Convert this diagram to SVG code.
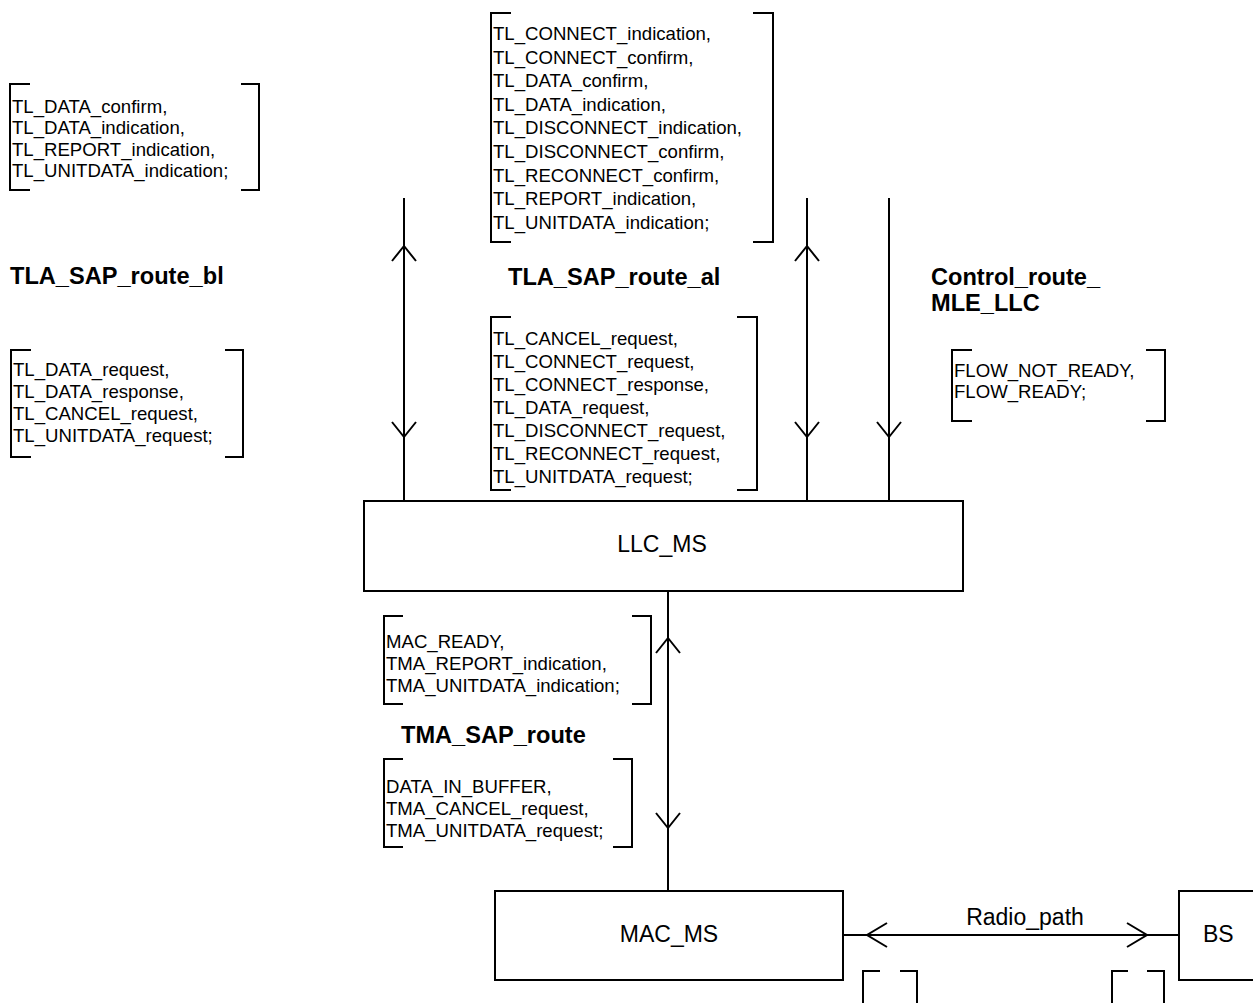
<svg xmlns="http://www.w3.org/2000/svg" width="1253" height="1003" viewBox="0 0 1253 1003">
<style>
.t{font-family:"Liberation Sans",Arial,sans-serif;font-size:18.6px;fill:#000}
.b{font-family:"Liberation Sans",Arial,sans-serif;font-size:23.6px;font-weight:bold;fill:#000}
.n{font-family:"Liberation Sans",Arial,sans-serif;font-size:23px;fill:#000}
.br{fill:none;stroke:#000;stroke-width:2}
.box{fill:#fff;stroke:#000;stroke-width:2}
.ln{fill:none;stroke:#000;stroke-width:2}
</style>
<defs>
<path id="ah" d="M-12,15 L0,0 L12,15" fill="none" stroke="#000" stroke-width="2"/>
</defs>
<rect width="1253" height="1003" fill="#fff"/>
<g id="connectors">
<line class="ln" x1="404" y1="198" x2="404" y2="501"/>
<use href="#ah" transform="translate(404,246)"/>
<use href="#ah" transform="translate(404,437) rotate(180)"/>
<line class="ln" x1="807" y1="198" x2="807" y2="501"/>
<use href="#ah" transform="translate(807,246)"/>
<use href="#ah" transform="translate(807,437) rotate(180)"/>
<line class="ln" x1="889" y1="198" x2="889" y2="501"/>
<use href="#ah" transform="translate(889,437) rotate(180)"/>
<line class="ln" x1="668" y1="591" x2="668" y2="891"/>
<use href="#ah" transform="translate(668,638)"/>
<use href="#ah" transform="translate(668,828) rotate(180)"/>
<line class="ln" x1="843" y1="935" x2="1179" y2="935"/>
<path class="ln" d="M887,923 L867,935 L887,947"/>
<path class="ln" d="M1127,923 L1147,935 L1127,947"/>
<text class="n" x="1025" y="925" text-anchor="middle">Radio_path</text>
</g>
<g id="sig_tla_bl_up">
<path class="br" d="M30,84 H10 V190 H30 M241,84 H259 V190 H241"/>
<text class="t" x="12" y="113">TL_DATA_confirm,</text>
<text class="t" x="12" y="134">TL_DATA_indication,</text>
<text class="t" x="12" y="156">TL_REPORT_indication,</text>
<text class="t" x="12" y="177">TL_UNITDATA_indication;</text>
</g>
<g id="sig_tla_al_up">
<path class="br" d="M511,13 H491 V242 H511 M753,13 H773 V242 H753"/>
<text class="t" x="493" y="40">TL_CONNECT_indication,</text>
<text class="t" x="493" y="63.6">TL_CONNECT_confirm,</text>
<text class="t" x="493" y="87.2">TL_DATA_confirm,</text>
<text class="t" x="493" y="110.8">TL_DATA_indication,</text>
<text class="t" x="493" y="134.4">TL_DISCONNECT_indication,</text>
<text class="t" x="493" y="158">TL_DISCONNECT_confirm,</text>
<text class="t" x="493" y="181.6">TL_RECONNECT_confirm,</text>
<text class="t" x="493" y="205.2">TL_REPORT_indication,</text>
<text class="t" x="493" y="228.8">TL_UNITDATA_indication;</text>
</g>
<g id="label_tla_bl"><text class="b" x="10" y="284">TLA_SAP_route_bl</text></g>
<g id="label_tla_al"><text class="b" x="508" y="285">TLA_SAP_route_al</text></g>
<g id="label_control">
<text class="b" x="931" y="285">Control_route_</text>
<text class="b" x="931" y="311">MLE_LLC</text>
</g>
<g id="sig_tla_bl_down">
<path class="br" d="M31,350 H11 V457 H31 M225,350 H243 V457 H225"/>
<text class="t" x="13" y="376">TL_DATA_request,</text>
<text class="t" x="13" y="398">TL_DATA_response,</text>
<text class="t" x="13" y="420">TL_CANCEL_request,</text>
<text class="t" x="13" y="442">TL_UNITDATA_request;</text>
</g>
<g id="sig_tla_al_down">
<path class="br" d="M511,317 H491 V490 H511 M737,317 H757 V490 H737"/>
<text class="t" x="493" y="345">TL_CANCEL_request,</text>
<text class="t" x="493" y="368">TL_CONNECT_request,</text>
<text class="t" x="493" y="391">TL_CONNECT_response,</text>
<text class="t" x="493" y="414">TL_DATA_request,</text>
<text class="t" x="493" y="437">TL_DISCONNECT_request,</text>
<text class="t" x="493" y="460">TL_RECONNECT_request,</text>
<text class="t" x="493" y="483">TL_UNITDATA_request;</text>
</g>
<g id="sig_control">
<path class="br" d="M972,350 H952 V421 H972 M1146,350 H1165 V421 H1146"/>
<text class="t" x="954" y="377">FLOW_NOT_READY,</text>
<text class="t" x="954" y="398">FLOW_READY;</text>
</g>
<g id="LLC_MS">
<rect class="box" x="364" y="501" width="599" height="90"/>
<text class="n" x="662" y="552" text-anchor="middle">LLC_MS</text>
</g>
<g id="sig_tma_up">
<path class="br" d="M403,616 H384 V704 H403 M632,616 H651 V704 H632"/>
<text class="t" x="386" y="648">MAC_READY,</text>
<text class="t" x="386" y="670">TMA_REPORT_indication,</text>
<text class="t" x="386" y="692">TMA_UNITDATA_indication;</text>
</g>
<g id="label_tma"><text class="b" x="401" y="743">TMA_SAP_route</text></g>
<g id="sig_tma_down">
<path class="br" d="M403,759 H384 V847 H403 M613,759 H632 V847 H613"/>
<text class="t" x="386" y="793">DATA_IN_BUFFER,</text>
<text class="t" x="386" y="815">TMA_CANCEL_request,</text>
<text class="t" x="386" y="837">TMA_UNITDATA_request;</text>
</g>
<g id="MAC_MS">
<rect class="box" x="495" y="891" width="348" height="89"/>
<text class="n" x="669" y="942" text-anchor="middle">MAC_MS</text>
</g>
<g id="BS">
<rect class="box" x="1179" y="891" width="90" height="89"/>
<text class="n" x="1203" y="942">BS</text>
</g>
<g id="sig_radio">
<path class="br" d="M880,971 H863 V1010 M900,971 H917 V1010"/>
<path class="br" d="M1128,971 H1112 V1010 M1147,971 H1164 V1010"/>
</g>
</svg>
